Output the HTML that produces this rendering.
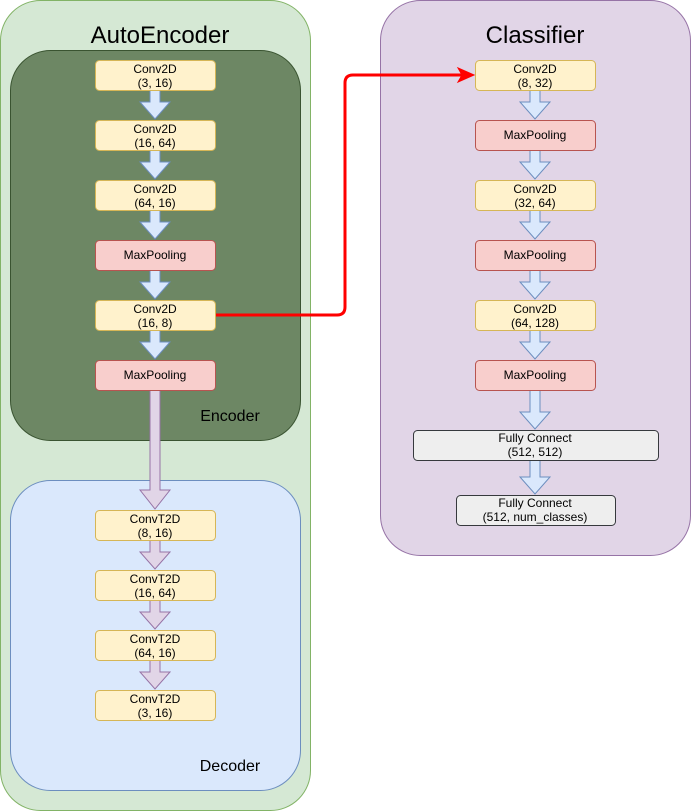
<!DOCTYPE html>
<html><head><meta charset="utf-8"><style>html,body{margin:0;padding:0;background:#fff}svg{display:block}text{font-family:"Liberation Sans",sans-serif}</style></head>
<body>
<svg width="691" height="811" viewBox="0 0 691 811" xmlns="http://www.w3.org/2000/svg">
<rect x="0.5" y="0.5" width="310" height="810" rx="40" fill="#d5e8d4" stroke="#82b366"/>
<text x="160" y="43" font-size="24" text-anchor="middle">AutoEncoder</text>
<rect x="10.5" y="50.5" width="290" height="390" rx="40" fill="#6d8764" stroke="#3a5431"/>
<text x="230" y="421" font-size="16" text-anchor="middle">Encoder</text>
<rect x="10.5" y="480.5" width="290" height="310" rx="40" fill="#dae8fc" stroke="#6c8ebf"/>
<text x="230" y="771" font-size="16" text-anchor="middle">Decoder</text>
<rect x="380.5" y="0.5" width="310" height="555" rx="40" fill="#e1d5e7" stroke="#9673a6"/>
<text x="535" y="43" font-size="24" text-anchor="middle">Classifier</text>

<g fill="#dae8fc" stroke="#6c8ebf">
<path d="M150,90 h10 v12 h10 l-15,17 l-15,-17 h10 z"/>
<path d="M150,150 h10 v12 h10 l-15,17 l-15,-17 h10 z"/>
<path d="M150,210 h10 v12 h10 l-15,17 l-15,-17 h10 z"/>
<path d="M150,270 h10 v12 h10 l-15,17 l-15,-17 h10 z"/>
<path d="M150,330 h10 v12 h10 l-15,17 l-15,-17 h10 z"/>
<path d="M530,90 h10 v12 h10 l-15,17 l-15,-17 h10 z"/>
<path d="M530,150 h10 v12 h10 l-15,17 l-15,-17 h10 z"/>
<path d="M530,210 h10 v12 h10 l-15,17 l-15,-17 h10 z"/>
<path d="M530,270 h10 v12 h10 l-15,17 l-15,-17 h10 z"/>
<path d="M530,330 h10 v12 h10 l-15,17 l-15,-17 h10 z"/>
<path d="M530,390 h10 v22 h10 l-15,17 l-15,-17 h10 z"/>
<path d="M530,460 h10 v17 h10 l-15,17 l-15,-17 h10 z"/>
</g>
<g fill="#e1d5e7" stroke="#9673a6">
<path d="M150,390 h10 v100 h10 l-15,19 l-15,-19 h10 z"/>
<path d="M150,540 h10 v12 h10 l-15,17 l-15,-17 h10 z"/>
<path d="M150,600 h10 v12 h10 l-15,17 l-15,-17 h10 z"/>
<path d="M150,660 h10 v12 h10 l-15,17 l-15,-17 h10 z"/>
</g>

<g font-size="12" text-anchor="middle">
<g stroke-width="1">
<rect x="95.5" y="60.5" width="120" height="30" rx="4" fill="#fff2cc" stroke="#d6b656"/>
<rect x="95.5" y="120.5" width="120" height="30" rx="4" fill="#fff2cc" stroke="#d6b656"/>
<rect x="95.5" y="180.5" width="120" height="30" rx="4" fill="#fff2cc" stroke="#d6b656"/>
<rect x="95.5" y="240.5" width="120" height="30" rx="4" fill="#f8cecc" stroke="#b85450"/>
<rect x="95.5" y="300.5" width="120" height="30" rx="4" fill="#fff2cc" stroke="#d6b656"/>
<rect x="95.5" y="360.5" width="120" height="30" rx="4" fill="#f8cecc" stroke="#b85450"/>
<rect x="95.5" y="510.5" width="120" height="30" rx="4" fill="#fff2cc" stroke="#d6b656"/>
<rect x="95.5" y="570.5" width="120" height="30" rx="4" fill="#fff2cc" stroke="#d6b656"/>
<rect x="95.5" y="630.5" width="120" height="30" rx="4" fill="#fff2cc" stroke="#d6b656"/>
<rect x="95.5" y="690.5" width="120" height="30" rx="4" fill="#fff2cc" stroke="#d6b656"/>
<rect x="475.5" y="60.5" width="120" height="30" rx="4" fill="#fff2cc" stroke="#d6b656"/>
<rect x="475.5" y="120.5" width="120" height="30" rx="4" fill="#f8cecc" stroke="#b85450"/>
<rect x="475.5" y="180.5" width="120" height="30" rx="4" fill="#fff2cc" stroke="#d6b656"/>
<rect x="475.5" y="240.5" width="120" height="30" rx="4" fill="#f8cecc" stroke="#b85450"/>
<rect x="475.5" y="300.5" width="120" height="30" rx="4" fill="#fff2cc" stroke="#d6b656"/>
<rect x="475.5" y="360.5" width="120" height="30" rx="4" fill="#f8cecc" stroke="#b85450"/>
<rect x="413.5" y="430.5" width="245" height="30" rx="4" fill="#eeeeee" stroke="#36393d"/>
<rect x="456.5" y="495.5" width="159" height="30" rx="4" fill="#eeeeee" stroke="#36393d"/>
</g>
<text x="155" y="73">Conv2D</text><text x="155" y="87">(3, 16)</text>
<text x="155" y="133">Conv2D</text><text x="155" y="147">(16, 64)</text>
<text x="155" y="193">Conv2D</text><text x="155" y="207">(64, 16)</text>
<text x="155" y="259">MaxPooling</text>
<text x="155" y="313">Conv2D</text><text x="155" y="327">(16, 8)</text>
<text x="155" y="379">MaxPooling</text>
<text x="155" y="523">ConvT2D</text><text x="155" y="537">(8, 16)</text>
<text x="155" y="583">ConvT2D</text><text x="155" y="597">(16, 64)</text>
<text x="155" y="643">ConvT2D</text><text x="155" y="657">(64, 16)</text>
<text x="155" y="703">ConvT2D</text><text x="155" y="717">(3, 16)</text>
<text x="535" y="73">Conv2D</text><text x="535" y="87">(8, 32)</text>
<text x="535" y="139">MaxPooling</text>
<text x="535" y="193">Conv2D</text><text x="535" y="207">(32, 64)</text>
<text x="535" y="259">MaxPooling</text>
<text x="535" y="313">Conv2D</text><text x="535" y="327">(64, 128)</text>
<text x="535" y="379">MaxPooling</text>
<text x="535" y="442">Fully Connect</text><text x="535" y="456">(512, 512)</text>
<text x="535" y="507">Fully Connect</text><text x="535" y="521">(512, num_classes)</text>
</g>

<path d="M216,315 H337 Q345,315 345,307 V83 Q345,75 353,75 H462" fill="none" stroke="#ff0000" stroke-width="3"/>
<path d="M474,75 L458,68 L462,75 L458,82 Z" fill="#ff0000" stroke="#ff0000" stroke-width="1"/>
</svg>
</body></html>
